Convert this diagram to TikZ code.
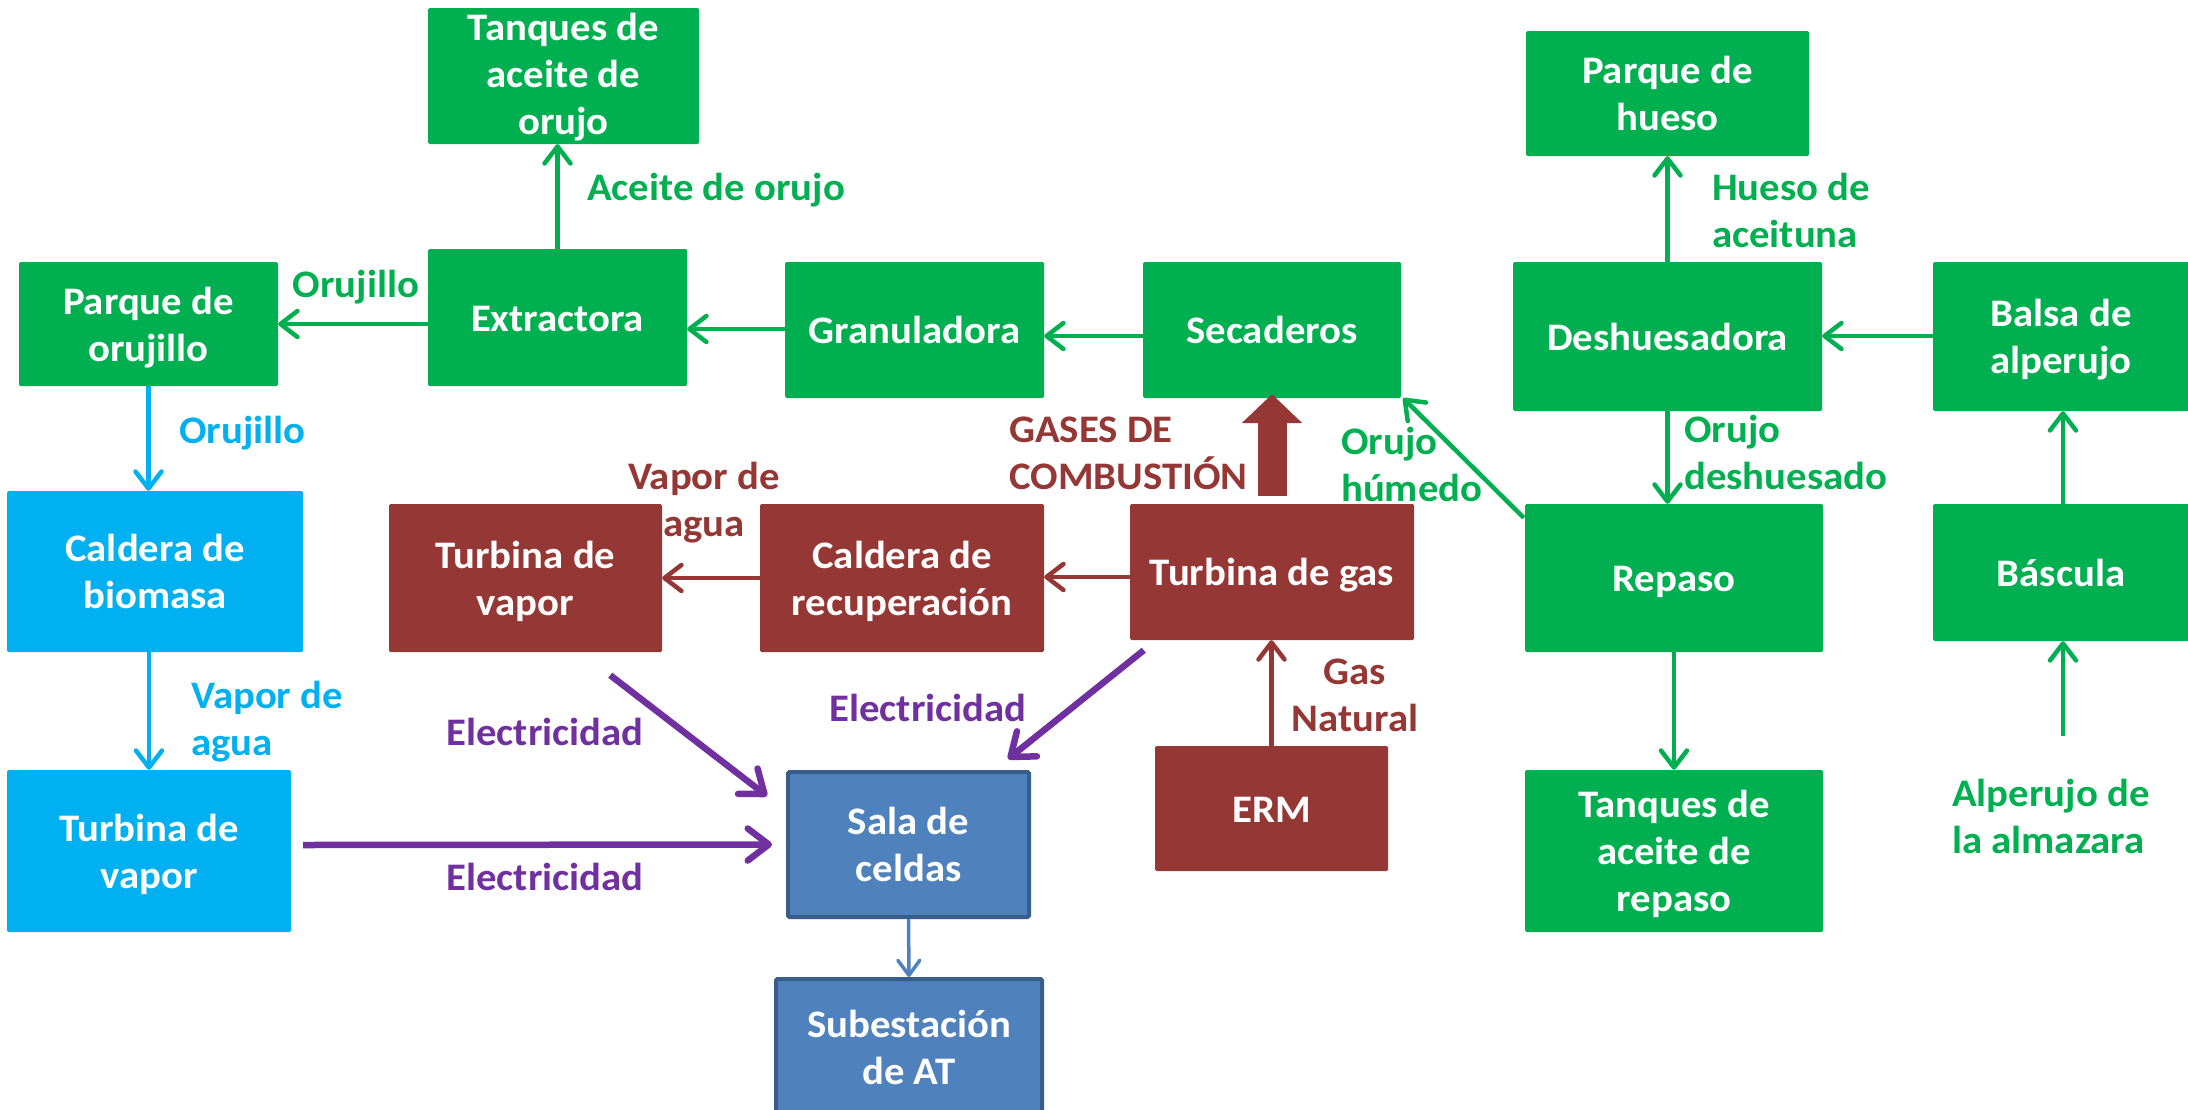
\documentclass[tikz,border=0pt]{standalone}
\usepackage{fontspec}
\setmainfont{Carlito}[FakeStretch=1.045]
\usetikzlibrary{arrows.meta,calc}
\definecolor{cgreen}{HTML}{00B050}
\definecolor{cblue}{HTML}{00B0F0}
\definecolor{cred}{HTML}{953735}
\definecolor{cpurple}{HTML}{7030A0}
\definecolor{csteel}{HTML}{4F81BD}
\definecolor{csteeld}{HTML}{385D8A}
\begin{document}
\begin{tikzpicture}[x=1pt,y=-1pt,
  txt/.style={font=\bfseries\fontsize{39pt}{47pt}\selectfont},
  box/.style={txt,rectangle,inner sep=0pt,text=white,align=center,rounded corners=1.5pt,
    text height=37pt,text depth=10pt},
  two/.style={text height=84pt},
  three/.style={text height=131pt},
  gbox/.style={box,fill=cgreen},
  bbox/.style={box,fill=cblue},
  rbox/.style={box,fill=cred},
  sbox/.style={box,fill=csteel,draw=csteeld,line width=4pt},
  lbl/.style={txt,inner sep=0pt,align=left},
  garr/.style={draw=cgreen,line width=4.5pt,-{Straight Barb[length=17pt,width=26pt,round]}},
  barr/.style={draw=cblue,line width=4.5pt,-{Straight Barb[length=17pt,width=26pt,round]}},
  rarr/.style={draw=cred,line width=4.5pt,-{Straight Barb[length=17pt,width=26pt,round]}},
  parr/.style={draw=cpurple,line width=6.5pt,-{Straight Barb[length=21pt,width=32pt,round]}},
  sarr/.style={draw=csteel,line width=3.5pt,-{Straight Barb[length=15pt,width=22pt,round]}}]
\useasboundingbox (0,0) rectangle (2188,1109);
\fill[white] (0,0) rectangle (2188,1109);
% green boxes
\node[gbox,three,text height=126pt,minimum width=271pt,minimum height=136pt] (tanqOr) at (563.5,76) {Tanques de\\aceite de\\orujo};
\node[gbox,minimum width=259pt,minimum height=137pt] (extract) at (557.5,317.5) {Extractora};
\node[gbox,two,minimum width=259pt,minimum height=124pt] (parqOrj) at (148.5,324) {Parque de\\orujillo};
\node[gbox,minimum width=259pt,minimum height=136pt] (granul) at (914.5,330) {Granuladora};
\node[gbox,minimum width=258pt,minimum height=136pt] (secad) at (1272,330) {Secaderos};
\node[gbox,two,minimum width=283pt,minimum height=125pt] (parqHueso) at (1667.5,93.5) {Parque de\\hueso};
\node[gbox,minimum width=309pt,minimum height=149pt] (deshues) at (1667.5,336.5) {Deshuesadora};
\node[gbox,two,minimum width=256pt,minimum height=149pt] (balsa) at (2061,336.5) {Balsa de\\alperujo};
\node[gbox,minimum width=298pt,minimum height=148pt] (repaso) at (1674,578) {Repaso};
\node[gbox,three,minimum width=298pt,minimum height=162pt] (tanqRep) at (1674,851) {Tanques de\\aceite de\\repaso};
\node[gbox,minimum width=256pt,minimum height=137pt] (bascula) at (2061,572.5) {Báscula};
% blue boxes
\node[bbox,two,minimum width=296pt,minimum height=161pt] (calBio) at (155,571.5) {Caldera de\\biomasa};
\node[bbox,two,minimum width=284pt,minimum height=162pt] (turbVapB) at (149,851) {Turbina de\\vapor};
% red boxes
\node[rbox,two,minimum width=273pt,minimum height=148pt] (turbVapR) at (525.5,578) {Turbina de\\vapor};
\node[rbox,two,minimum width=284pt,minimum height=148pt] (calRec) at (902,578) {Caldera de\\recuperación};
\node[rbox,minimum width=284pt,minimum height=136pt] (turbGas) at (1272,572) {Turbina de gas};
\node[rbox,minimum width=233pt,minimum height=125pt] (erm) at (1271.5,808.5) {ERM};
% steel boxes
\node[sbox,two,minimum width=241pt,minimum height=145pt] (sala) at (908.5,844.5) {Sala de\\celdas};
\node[sbox,two,minimum width=266pt,minimum height=136pt] (subest) at (909,1047) {Subestación\\de AT};
% labels
\node[lbl,text=cgreen] (lOrj1) at (356,287) {Orujillo};
\node[lbl,text=cgreen,anchor=west] (lAce) at (587,190) {Aceite de orujo};
\node[lbl,text=cblue,anchor=west] (lOrj2) at (179,433) {Orujillo};
\node[lbl,text=cblue,anchor=west] (lVap1) at (191,722) {Vapor de\\agua};
\node[lbl,text=cred,align=center] (lVap2) at (704,503) {Vapor de\\agua};
\node[lbl,text=cred,anchor=west] (lGas) at (1009,453) {GASES DE\\COMBUSTIÓN};
\node[lbl,text=cgreen,anchor=west] (lHum) at (1341,464) {Orujo\\húmedo};
\node[lbl,text=cgreen,anchor=west] (lHue) at (1712,210) {Hueso de\\aceituna};
\node[lbl,text=cgreen,anchor=west] (lDes) at (1684,452) {Orujo\\deshuesado};
\node[lbl,text=cred,align=center] (lGN) at (1355,695) {Gas\\Natural};
\node[lbl,text=cgreen,anchor=west] (lAlp) at (1952,816) {Alperujo de\\la almazara};
\node[lbl,text=cpurple] (lE1) at (545,732) {Electricidad};
\node[lbl,text=cpurple] (lE2) at (545,877) {Electricidad};
\node[lbl,text=cpurple] (lE3) at (928,708) {Electricidad};
\coordinate (alp) at (2063,736);
% green connectors
\draw[garr] (extract.west |- 0,324) -- (parqOrj.east |- 0,324);
\draw[garr] (granul.west |- 0,329) -- (extract.east |- 0,329);
\draw[garr] (extract.north) -- (extract.north |- tanqOr.south);
\draw[garr] (secad.west |- 0,336) -- (granul.east |- 0,336);
\draw[garr] (deshues.north) -- (deshues.north |- parqHueso.south);
\draw[garr] (deshues.south) -- (deshues.south |- repaso.north);
\draw[garr] (balsa.west |- 0,336) -- (deshues.east |- 0,336);
\draw[garr] (bascula.north -| alp) -- (balsa.south -| alp);
\draw[garr] (alp) -- (alp |- bascula.south);
\draw[garr] (repaso.south) -- (tanqRep.north);
\draw[garr] ([shift={(-1,14)}]repaso.north west) -- ([shift={(2,0)}]secad.south east);
% blue connectors
\draw[barr] (parqOrj.south) -- (parqOrj.south |- calBio.north);
\draw[barr] (calBio.south -| turbVapB.north) -- (turbVapB.north);
% red connectors
\draw[rarr] (calRec.west) -- (turbVapR.east);
\draw[rarr] (turbGas.west |- 0,577) -- (calRec.east |- 0,577);
\draw[rarr] (erm.north) -- (erm.north |- turbGas.south);
\draw[cred,line width=29pt,-{Triangle[length=29pt,width=59pt]}] ([yshift=8pt]turbGas.north) -- ([yshift=4pt]secad.south);
% purple connectors
\draw[parr] ([shift={(12,-6)}]turbVapB.east) -- ([xshift=-14pt]sala.west);
\draw[parr] ([shift={(-52,23)}]turbVapR.south east) -- ([shift={(-19,26)}]sala.north west);
\draw[parr] ([shift={(14,10)}]turbGas.south west) -- ([shift={(-23,-11)}]sala.north east);
% steel connector
\draw[sarr] (sala.south) -- (subest.north);
\end{tikzpicture}
\end{document}
